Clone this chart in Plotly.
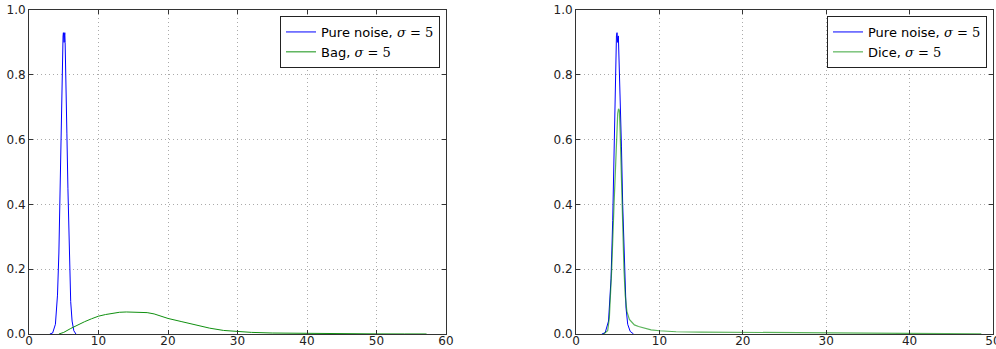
import plotly.graph_objects as go

# Pure noise distribution (left panel)
noise_left_x = [3.0, 3.4, 3.8, 4.1, 4.3, 4.5, 4.65, 4.8, 4.9, 4.95, 5.0, 5.05, 5.1, 5.15,
                5.2, 5.3, 5.45, 5.6, 5.8, 6.0, 6.2, 6.45, 6.75]
noise_left_y = [0.0, 0.003, 0.03, 0.12, 0.25, 0.5, 0.72, 0.88, 0.92, 0.93, 0.92, 0.90, 0.92,
                0.93, 0.90, 0.82, 0.62, 0.45, 0.22, 0.10, 0.04, 0.01, 0.0]

# Bag distribution
bag_x = [4.3, 5, 6, 7, 8, 9, 10, 11, 12, 13, 14, 15, 16, 16.5, 17, 18, 19, 20, 22, 24, 26,
         28, 30, 32, 35, 38, 42, 46, 50, 54, 57.2]
bag_y = [0.0, 0.005, 0.017, 0.028, 0.038, 0.047, 0.055, 0.060, 0.064, 0.067, 0.068, 0.068,
         0.067, 0.068, 0.066, 0.062, 0.055, 0.048, 0.038, 0.027, 0.018, 0.011, 0.007, 0.005,
         0.003, 0.002, 0.001, 0.0006, 0.0003, 0.0002, 0.0001]

# Pure noise distribution (right panel)
noise_right_x = [3.1, 3.5, 3.9, 4.2, 4.4, 4.6, 4.75, 4.85, 4.92, 5.0, 5.08, 5.15, 5.2, 5.3,
                 5.45, 5.6, 5.8, 6.0, 6.2, 6.5, 6.9]
noise_right_y = [0.0, 0.004, 0.04, 0.17, 0.35, 0.62, 0.83, 0.92, 0.93, 0.90, 0.92, 0.86,
                 0.87, 0.75, 0.58, 0.40, 0.20, 0.08, 0.03, 0.008, 0.0]

# Dice distribution
dice_x = [3.3, 3.8, 4.0, 4.28, 4.56, 4.8, 5.0, 5.1, 5.2, 5.3, 5.45, 5.6, 5.75, 5.9, 6.1,
          6.4, 6.7, 7.0, 7.5, 8, 9, 10, 12, 15, 20, 25, 28, 30, 35, 40, 45, 48.6]
dice_y = [0.0, 0.01, 0.05, 0.2, 0.4, 0.58, 0.68, 0.695, 0.69, 0.62, 0.45, 0.30, 0.20, 0.12,
          0.07, 0.045, 0.035, 0.028, 0.023, 0.019, 0.013, 0.010, 0.007, 0.006, 0.005, 0.0045,
          0.004, 0.002, 0.0012, 0.0008, 0.0004, 0.0002]

x_ticks_left = [0, 10, 20, 30, 40, 50, 60]
x_ticks_right = [0, 10, 20, 30, 40, 50]
y_ticks = [0.0, 0.2, 0.4, 0.6, 0.8, 1.0]

W, H = 996, 349

def sig(label):
    return f"{label}, <span style='font-family:DejaVu Serif'><i>σ</i> = 5</span>"

fig = go.Figure()
fig.add_trace(go.Scatter(x=noise_left_x, y=noise_left_y, mode="lines",
                         line=dict(color="#0000ff", width=1), name=sig("Pure noise"),
                         xaxis="x", yaxis="y", legend="legend"))
fig.add_trace(go.Scatter(x=bag_x, y=bag_y, mode="lines",
                         line=dict(color="#109010", width=1), name=sig("Bag"),
                         xaxis="x", yaxis="y", legend="legend"))
fig.add_trace(go.Scatter(x=noise_right_x, y=noise_right_y, mode="lines",
                         line=dict(color="#0000ff", width=1), name=sig("Pure noise"),
                         xaxis="x2", yaxis="y2", legend="legend2"))
fig.add_trace(go.Scatter(x=dice_x, y=dice_y, mode="lines",
                         line=dict(color="rgba(0,140,0,0.65)", width=1.2), name=sig("Dice"),
                         xaxis="x2", yaxis="y2", legend="legend2"))

ydom = [1 - 334 / H, 1 - 10 / H]
axis_common = dict(showline=True, linecolor="#333", linewidth=1, mirror="allticks",
                   ticks="inside", ticklen=4, tickcolor="#333", automargin=False,
                   ticklabeloverflow="allow",
                   showgrid=True, gridcolor="#aaaaaa", griddash="1px,3px", gridwidth=1,
                   zeroline=False, tickfont=dict(family="DejaVu Sans", size=12, color="#222"))

legend_common = dict(yanchor="top", y=1 - 16 / H, xanchor="right",
                     bgcolor="white", bordercolor="#222", borderwidth=1,
                     tracegroupgap=0, itemwidth=30,
                     font=dict(family="DejaVu Sans", size=13, color="black"))

fig.update_layout(
    width=W, height=H,
    margin=dict(l=0, r=0, t=0, b=0, autoexpand=False),
    paper_bgcolor="white", plot_bgcolor="white",
    showlegend=True,
    xaxis=dict(domain=[29 / W, 446 / W], range=[0, 60], tickvals=x_ticks_left,
               anchor="y", ticklabelstandoff=-4, **axis_common),
    yaxis=dict(domain=ydom, range=[0, 1], tickvals=y_ticks, tickformat=".1f",
               anchor="x", **axis_common),
    xaxis2=dict(domain=[576 / W, 993 / W], range=[0, 50], tickvals=x_ticks_right,
                anchor="y2", ticklabelstandoff=-4, **axis_common),
    yaxis2=dict(domain=ydom, range=[0, 1], tickvals=y_ticks, tickformat=".1f",
                anchor="x2", **axis_common),
    legend=dict(x=440 / W, **legend_common),
    legend2=dict(x=987 / W, **legend_common),
)

fig.write_html("out.html")
